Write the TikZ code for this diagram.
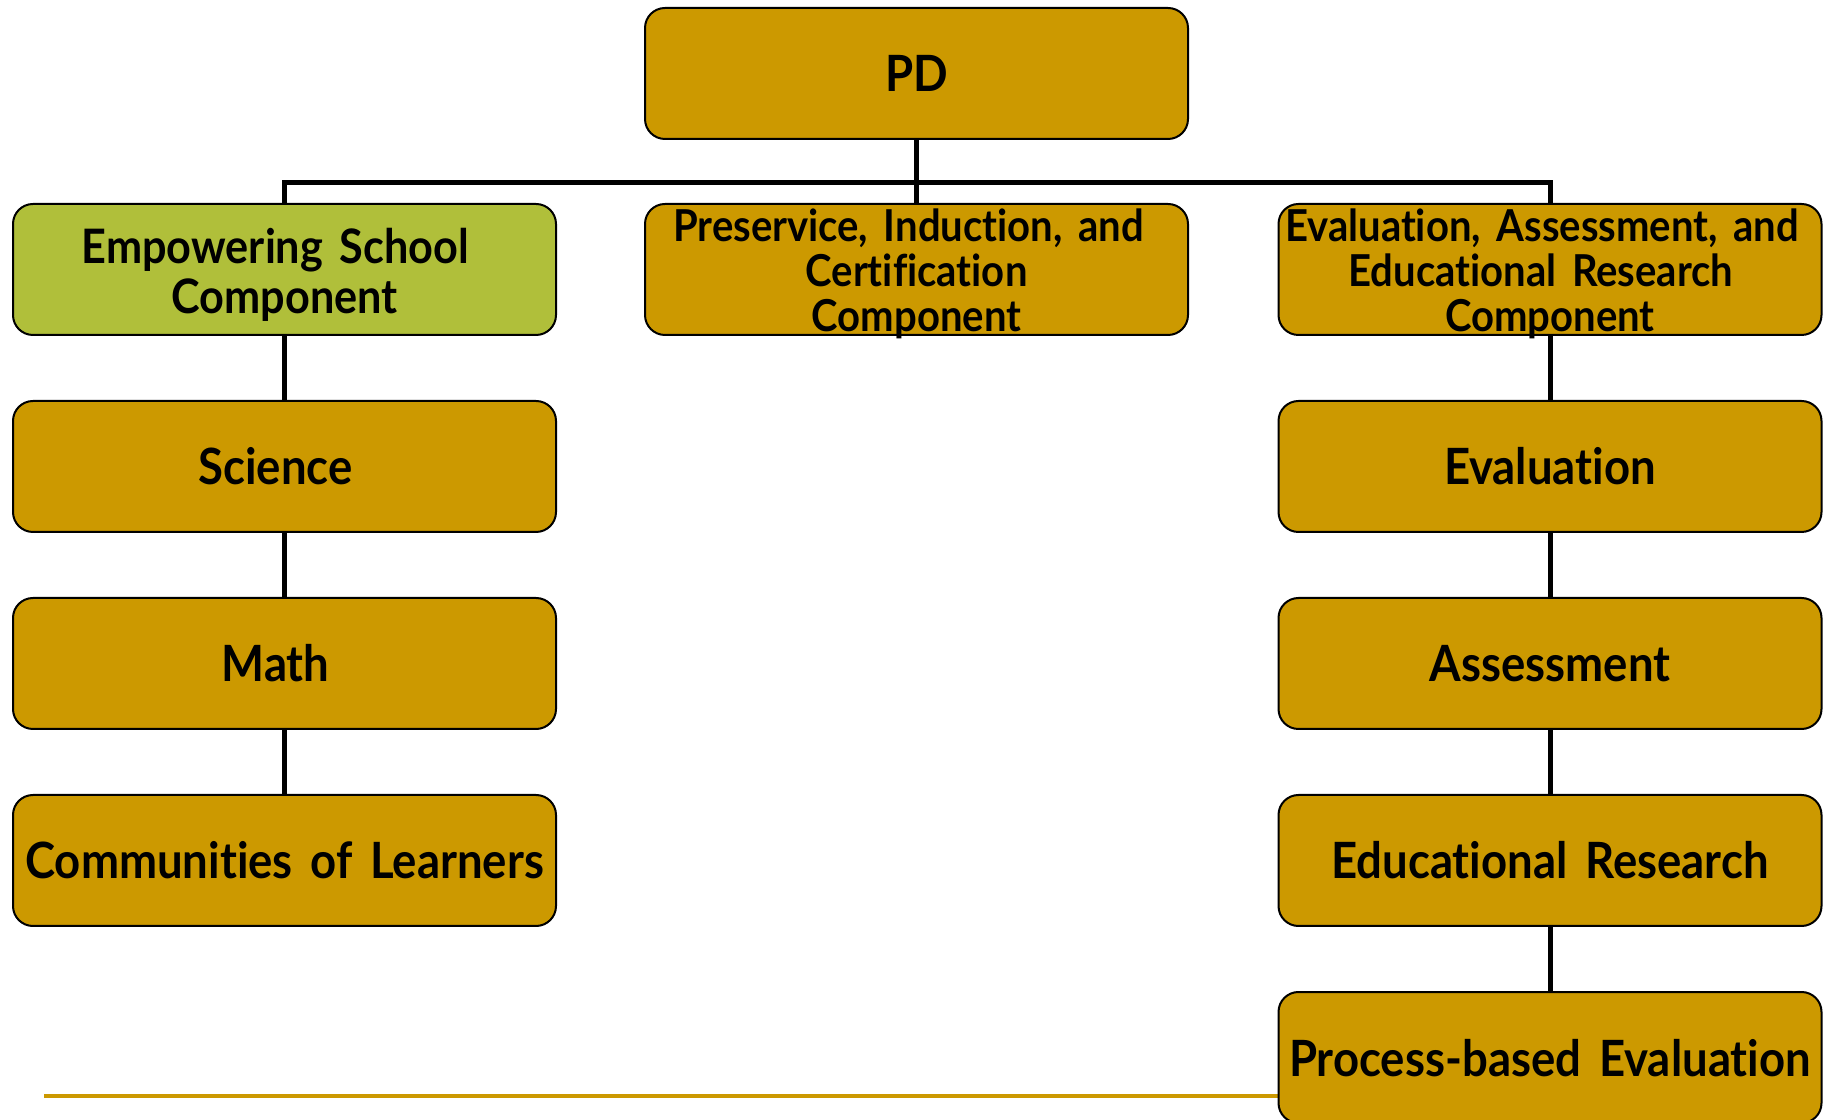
\documentclass[tikz,border=0pt]{standalone}
\usepackage{fontspec}
\setmainfont{Lato}[Ligatures={CommonOff,ContextualOff}, FakeStretch=0.91, WordSpace=1.6]
\usetikzlibrary{backgrounds}
\definecolor{gold}{RGB}{204,153,0}
\definecolor{leaf}{RGB}{176,191,58}
\newcommand\triline[3]{\raisebox{-61.6pt}[0pt][0pt]{\vbox{\baselineskip=45pt\lineskiplimit=-100pt\lineskip=0pt
  \halign{\hfil##\hfil\cr #1\cr #2\cr #3\cr}}}}
\begin{document}
\begin{tikzpicture}[x=1pt,y=1pt,
  box/.style={draw=black, line width=2pt, rounded corners=20pt, fill=gold,
    minimum width=543pt, minimum height=131pt, inner sep=0pt, align=center},
  one/.style={font=\bfseries\fontsize{50}{60}\selectfont, text height=37pt, text depth=0pt},
  multi/.style={font=\bfseries\fontsize{44}{45}\selectfont},
  duo/.style={font=\bfseries\fontsize{47.5}{50}\selectfont},
  link/.style={draw=black, line width=5pt},
  rule/.style={draw=gold, line width=3.5pt}]
\useasboundingbox (0,0) rectangle (1830,1119);
\clip (0,0) rectangle (1830,1119);

\node[box, one] (pd) at (916.5,1045.5) {PD};

\node[box, fill=leaf, duo] (emp) at (284.5,849.5)
  {\rule{0pt}{45pt}Empowering School\hspace*{18pt}\\Component};
\node[box, multi] (pic) at (916.5,849.5)
  {\triline{Preservice, Induction, and\kern16pt}{Certification}{Component}};
\node[box, multi] (ear) at (1550,849.5)
  {\triline{Evaluation, Assessment, and\kern16pt}{Educational Research\kern18pt}{Component}};

\node[box, one] (sci) at (284.5,652.5) {\hbox{Science\kern18pt}};
\node[box, one] (math) at (284.5,455.5) {\hbox{Math\kern18pt}};
\node[box, one] (col) at (284.5,258.5) {Communities of Learners};

\node[box, one] (ev) at (1550,652.5) {Evaluation};
\node[box, one] (as) at (1550,455.5) {Assessment};
\node[box, one] (er) at (1550,258.5) {Educational Research};

\coordinate (yl) at (44,23);
\begin{scope}[on background layer]
  \draw[rule] (yl) -- (1300,23);
\end{scope}
\node[box, one] (pbe) at (1550,61.5) {Process-based Evaluation};

\coordinate (bus) at (916.5,936);
\begin{scope}[on background layer]
  \draw[link] (pd.south) -- (pic.north);
  \draw[link] (emp.north) |- (bus) -| (ear.north);
  \draw[link] (emp.south) -- (sci.north);
  \draw[link] (sci.south) -- (math.north);
  \draw[link] (math.south) -- (col.north);
  \draw[link] (ear.south) -- (ev.north);
  \draw[link] (ev.south) -- (as.north);
  \draw[link] (as.south) -- (er.north);
  \draw[link] (er.south) -- (pbe.north);
\end{scope}
\end{tikzpicture}
\end{document}
